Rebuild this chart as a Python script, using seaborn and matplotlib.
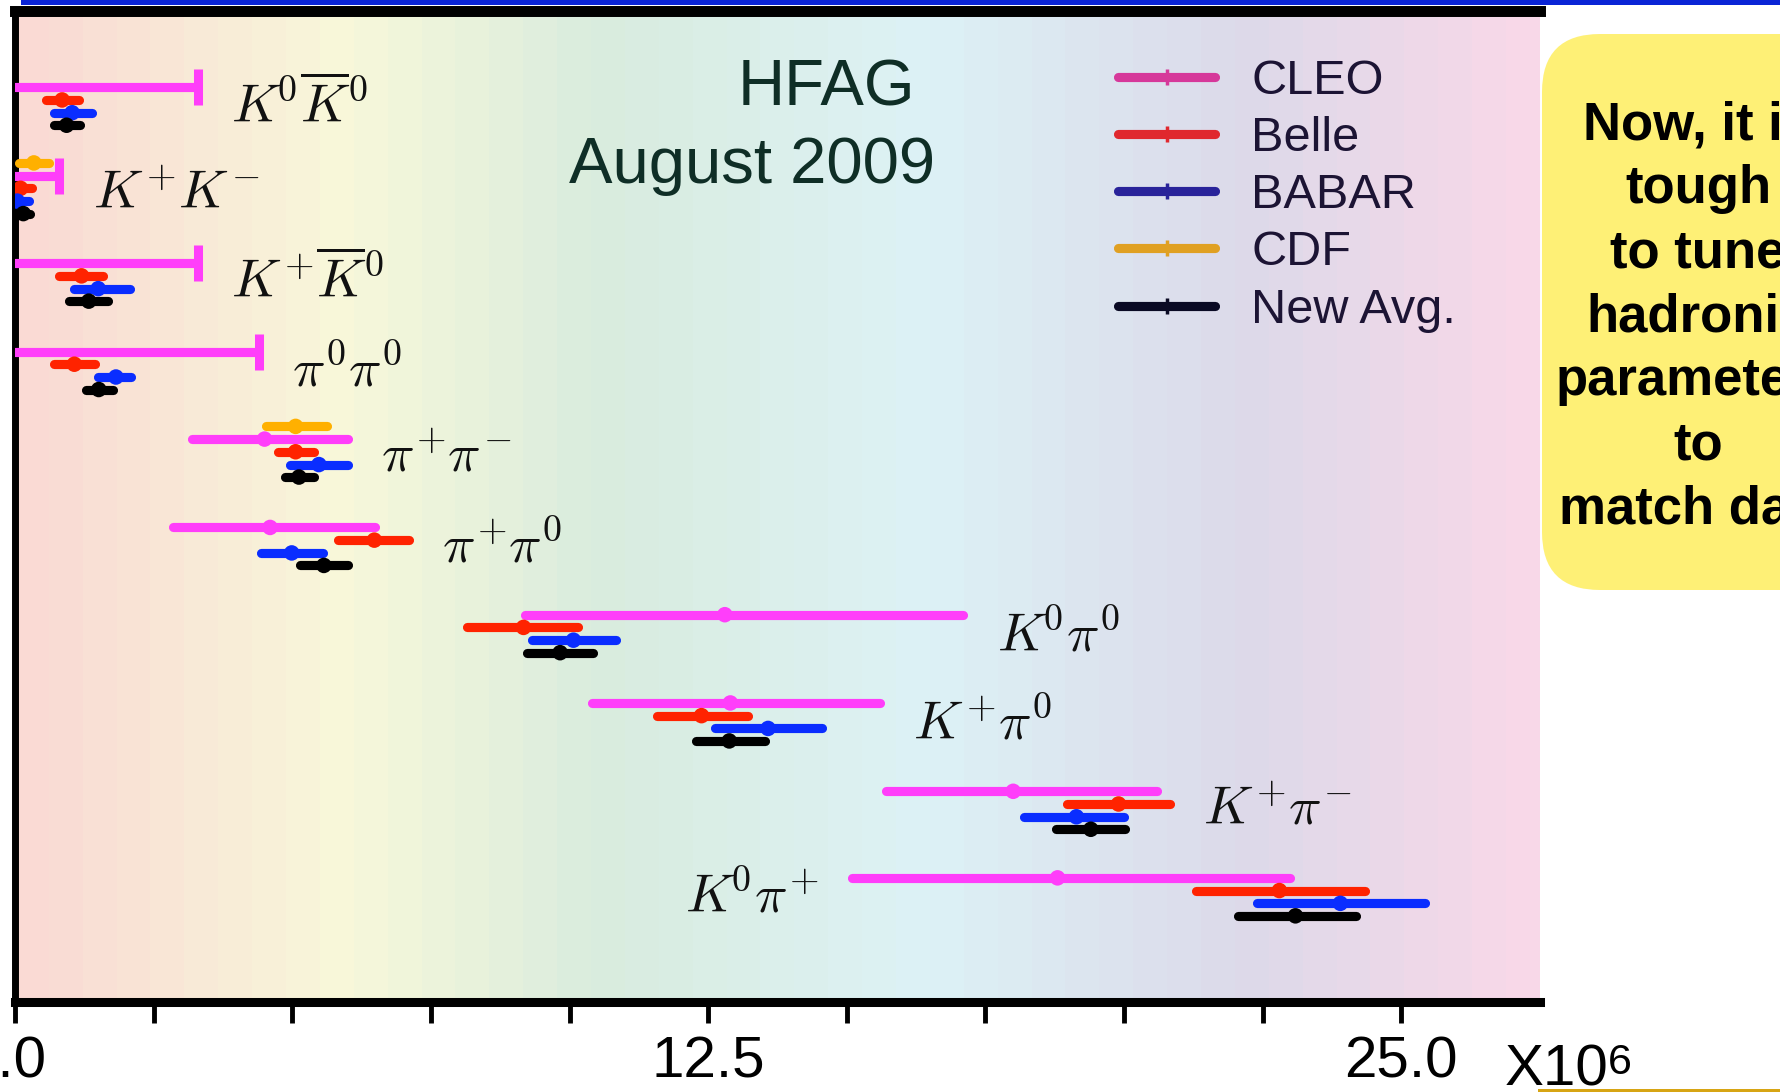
import numpy as np
import pandas as pd
import matplotlib
matplotlib.use("Agg")
import matplotlib.pyplot as plt
from matplotlib.colors import LinearSegmentedColormap
from matplotlib.patches import FancyBboxPatch, Rectangle
from matplotlib.lines import Line2D
from matplotlib.transforms import IdentityTransform, ScaledTranslation
import seaborn as sns

nan = np.nan

# ---------------------------------------------------------------------------
# B -> two charmless hadrons, branching fractions in units of 1e-6
# ---------------------------------------------------------------------------
modes = [r"$K^{\!0}\overline{K}^0$", r"$K^{\!+}\!K^{\!-}$", r"$K^{\!+}\!\overline{K}^0$",
         r"$\pi^0\pi^0$", r"$\pi^{\!+}\!\pi^{\!-}$", r"$\pi^{\!+}\!\pi^0$", r"$K^{\!0}\pi^0$",
         r"$K^{\!+}\!\pi^0$", r"$K^{\!+}\!\pi^{\!-}$", r"$K^{\!0}\pi^{\!+}$"]

# CLEO: measurements and 90% CL upper limits
cleo_val = [nan, nan, nan, nan, 4.5, 4.6, 12.8, 12.9, 18.0, 18.8]
cleo_lo = [nan, nan, nan, nan, 3.2, 2.85, 9.2, 10.4, 15.7, 15.1]
cleo_hi = [nan, nan, nan, nan, 6.0, 6.5, 17.1, 15.6, 20.6, 23.0]
cleo_ul = [3.3, 0.8, 3.3, 4.4, nan, nan, nan, nan, nan, nan]

belle_val = [0.85, 0.10, 1.20, 1.07, 5.06, 6.48, 9.17, 12.38, 19.9, 22.8]
belle_lo = [0.55, -0.10, 0.80, 0.70, 4.74, 5.82, 8.15, 11.58, 18.97, 21.3]
belle_hi = [1.15, 0.30, 1.58, 1.45, 5.40, 7.10, 10.15, 13.22, 20.83, 24.35]

babar_val = [1.03, 0.04, 1.50, 1.82, 5.48, 4.99, 10.07, 13.58, 19.14, 23.9]
babar_lo = [0.71, -0.20, 1.07, 1.50, 4.95, 4.43, 9.33, 12.63, 18.20, 22.4]
babar_hi = [1.39, 0.25, 2.07, 2.10, 6.00, 5.55, 10.83, 14.55, 19.99, 25.42]

cdf_val = [nan, 0.34, nan, nan, 5.06, nan, nan, nan, nan, nan]
cdf_lo = [nan, 0.08, nan, nan, 4.53, nan, nan, nan, nan, nan]
cdf_hi = [nan, 0.62, nan, nan, 5.62, nan, nan, nan, nan, nan]

avg_val = [0.93, 0.15, 1.33, 1.51, 5.12, 5.57, 9.83, 12.88, 19.40, 23.09]
avg_lo = [0.71, 0.05, 0.98, 1.28, 4.86, 5.14, 9.23, 12.28, 18.78, 22.05]
avg_hi = [1.18, 0.27, 1.67, 1.77, 5.39, 6.00, 10.43, 13.52, 20.02, 24.18]

x_ticks = [0, 2.5, 5, 7.5, 10, 12.5, 15, 17.5, 20, 22.5, 25]
x_tick_labels = ["0.0", "", "", "", "", "12.5", "", "", "", "", "25.0"]

# ---------------------------------------------------------------------------
# layout / style
# ---------------------------------------------------------------------------
row_pos = [0.873, 1.757, 2.633, 3.517, 4.393, 5.277, 6.150, 7.033, 7.917, 8.783]
exp_offset = {"CDF": -0.127, "CLEO": 0.0, "Belle": 0.127, "BABAR": 0.255, "New Avg.": 0.38}
label_side = ["r", "r", "r", "r", "r", "r", "r", "r", "r", "l"]
label_dy = [0.344, 0.326, 0.334, 0.35, 0.317, 0.356, 0.367, 0.367, 0.323, 0.347]

data_colors = {"CLEO": "#FF3EFA", "Belle": "#FF2300", "BABAR": "#0A2DFF",
               "CDF": "#FFB000", "New Avg.": "#000000"}
legend_colors = {"CLEO": "#D6389A", "Belle": "#E0282E", "BABAR": "#29239A",
                 "CDF": "#E0A022", "New Avg.": "#0A0A24"}
legend_order = ["CLEO", "Belle", "BABAR", "CDF", "New Avg."]

W, H = 1780, 1092
X_MAX = 27.5
Y_TOP, Y_BOT = 0.105, 10.025

# ---------------------------------------------------------------------------
# tidy tables
# ---------------------------------------------------------------------------
series = {
    "CLEO": (cleo_val, cleo_lo, cleo_hi),
    "Belle": (belle_val, belle_lo, belle_hi),
    "BABAR": (babar_val, babar_lo, babar_hi),
    "CDF": (cdf_val, cdf_lo, cdf_hi),
    "New Avg.": (avg_val, avg_lo, avg_hi),
}

meas_rows, seg_rows = [], []
uid = 0
for exp, (vals, los, his) in series.items():
    for i, (v, lo, hi) in enumerate(zip(vals, los, his)):
        if np.isnan(v):
            continue
        y = row_pos[i] + exp_offset[exp]
        meas_rows.append(dict(mode=i, exp=exp, val=v, lo=lo, hi=hi, y=y))
        seg_rows.append(dict(uid=uid, exp=exp, x=lo, y=y))
        seg_rows.append(dict(uid=uid, exp=exp, x=hi, y=y))
        uid += 1

ul_rows = []
for i, ul in enumerate(cleo_ul):
    if np.isnan(ul):
        continue
    y = row_pos[i] + exp_offset["CLEO"]
    ul_rows.append(dict(mode=i, exp="CLEO", ul=ul, y=y))
    seg_rows.append(dict(uid=uid, exp="CLEO", x=0.0, y=y))
    seg_rows.append(dict(uid=uid, exp="CLEO", x=ul, y=y))
    uid += 1

meas = pd.DataFrame(meas_rows)
segs = pd.DataFrame(seg_rows)
uls = pd.DataFrame(ul_rows)

# ---------------------------------------------------------------------------
# figure
# ---------------------------------------------------------------------------
sns.set_theme(style="white")
plt.rcParams["font.family"] = ["Liberation Sans", "DejaVu Sans"]

fig = plt.figure(figsize=(W / 100, H / 100), dpi=100)
fig.patch.set_facecolor("white")

ax_left, ax_right, ax_top, ax_bot = 15, 1540, 10.5, 1002
ax = fig.add_axes([ax_left / W, 1 - ax_bot / H, (ax_right - ax_left) / W, (ax_bot - ax_top) / H])

# pastel rainbow backdrop, in vertical bands
bg = LinearSegmentedColormap.from_list("bg", [
    (0.00, (250 / 255, 218 / 255, 212 / 255)),
    (0.21, (248 / 255, 248 / 255, 218 / 255)),
    (0.38, (217 / 255, 236 / 255, 222 / 255)),
    (0.60, (221 / 255, 242 / 255, 246 / 255)),
    (0.81, (220 / 255, 218 / 255, 234 / 255)),
    (1.00, (248 / 255, 216 / 255, 232 / 255)),
])
ax.imshow(np.linspace(0, 1, 45)[None, :], cmap=bg, aspect="auto",
          extent=(0, X_MAX, Y_BOT, Y_TOP), interpolation="nearest", zorder=0)

# error bars
sns.lineplot(data=segs, x="x", y="y", hue="exp", units="uid", estimator=None,
             sort=False, palette=data_colors, linewidth=6.6,
             solid_capstyle="round", legend=False, ax=ax, zorder=3)
# central values
sns.scatterplot(data=meas, x="val", y="y", hue="exp", palette=data_colors,
                s=125, marker="o", linewidth=0, legend=False, ax=ax, zorder=4)
# upper-limit end bars
sns.scatterplot(data=uls, x="ul", y="y", color=data_colors["CLEO"], marker="|",
                s=640, linewidth=6.5, legend=False, ax=ax, zorder=4)

# decay mode labels
for i, lab in enumerate(modes):
    ends = [h for h in (cleo_hi[i], cleo_ul[i], belle_hi[i], babar_hi[i],
                        cdf_hi[i], avg_hi[i]) if not np.isnan(h)]
    starts = [l for l in (cleo_lo[i], belle_lo[i], babar_lo[i], cdf_lo[i],
                          avg_lo[i]) if not np.isnan(l)]
    if label_side[i] == "r":
        x, ha = max(ends) + 0.6, "left"
    else:
        x, ha = min(starts) - 0.6, "right"
    ax.text(x, row_pos[i] + label_dy[i], lab, fontsize=39, math_fontfamily="cm",
            ha=ha, va="baseline", color="#111111", zorder=5)

ax.set_xlim(0, X_MAX)
ax.set_ylim(Y_BOT, Y_TOP)
ax.set_xlabel("")
ax.set_ylabel("")
ax.set_yticks([])
ax.set_xticks(x_ticks)
ax.set_xticklabels(x_tick_labels)
ax.tick_params(axis="x", direction="out", length=15, width=3.5, pad=9,
               labelsize=42, colors="black", bottom=True)
lbl0 = ax.get_xticklabels()[0]
lbl0.set_transform(lbl0.get_transform() + ScaledTranslation(-0.09, 0, fig.dpi_scale_trans))

for side, lw in (("top", 7.9), ("left", 5.0), ("bottom", 6.5)):
    ax.spines[side].set_visible(True)
    ax.spines[side].set_color("black")
    ax.spines[side].set_linewidth(lw)
ax.spines["right"].set_visible(False)

# legend
handles = [Line2D([0], [0], color=legend_colors[e], lw=6.6, solid_capstyle="round",
                  marker="|", markersize=11, markeredgewidth=2.5) for e in legend_order]
ax.legend(handles, legend_order, loc="upper left",
          bbox_to_anchor=(1118 / W, 1 - 59 / H), bbox_transform=fig.transFigure,
          frameon=False, fontsize=35, labelcolor="#1C1434", handlelength=2.0,
          handletextpad=0.74, labelspacing=0.25, borderpad=0, borderaxespad=0)

# title block
fig.text(826 / W, 1 - 105 / H, "HFAG", fontsize=47, color="#0F2E26",
         ha="center", va="baseline")
fig.text(752 / W, 1 - 183 / H, "August 2009", fontsize=47, color="#0F2E26",
         ha="center", va="baseline")

# axis multiplier
fig.text(1505 / W, 1 - 1085 / H, "X10", fontsize=42, color="black",
         ha="left", va="baseline")
fig.text(1608 / W, 1 - 1043 / H, "6", fontsize=31, color="black",
         ha="left", va="top")

# slide decorations: blue rule on top, gold rule at bottom right
fig.add_artist(Rectangle((21, H - 5), W - 21, 5, transform=IdentityTransform(),
                         facecolor="#0A24D6", edgecolor="none", zorder=6))
fig.add_artist(Rectangle((1538, 0), W - 1538, 3, transform=IdentityTransform(),
                         facecolor="#D7A514", edgecolor="none", zorder=6))

# call-out box
fig.add_artist(FancyBboxPatch((1542, H - 590), 320, 556,
                              boxstyle="round,pad=0,rounding_size=58",
                              transform=IdentityTransform(), facecolor="#FEF076",
                              edgecolor="none", zorder=6))
fig.text(1698 / W, 1 - 100 / H,
         "Now, it is\ntough\nto tune\nhadronic\nparameters\nto\nmatch data",
         fontsize=38, fontweight="bold", color="black", ha="center", va="top",
         multialignment="center", linespacing=1.36, zorder=7)

fig.savefig("out.png", dpi=100)
